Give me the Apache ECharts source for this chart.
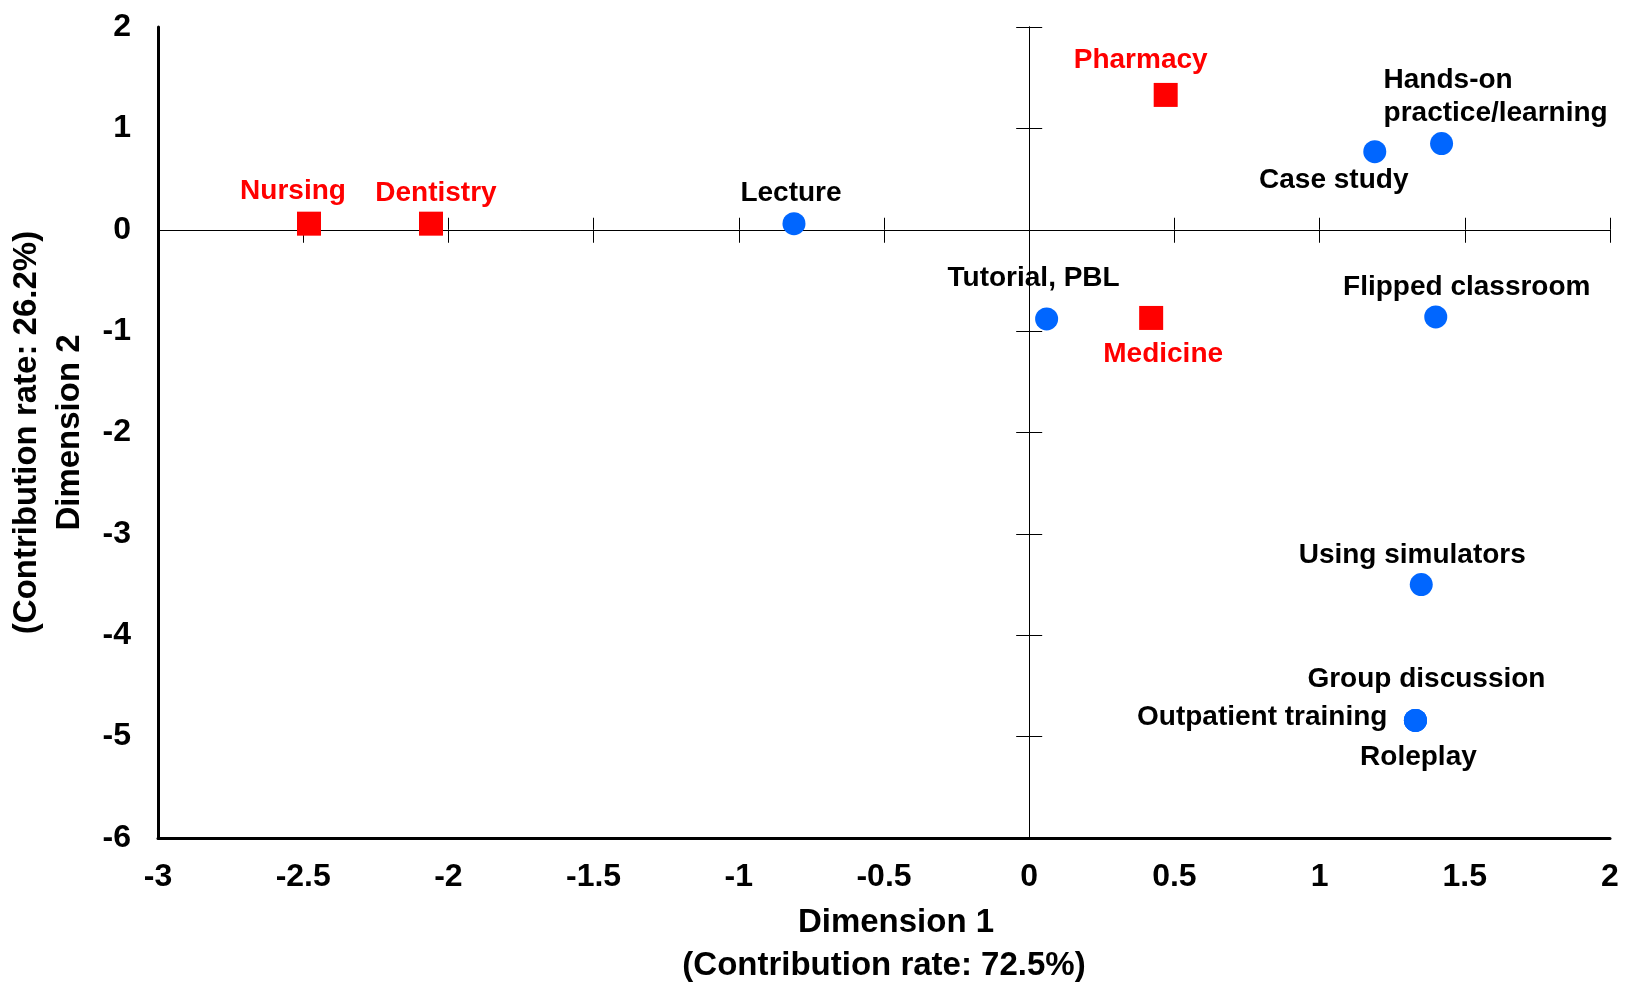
<!DOCTYPE html>
<html>
<head>
<meta charset="utf-8">
<script src="https://cdn.jsdelivr.net/npm/echarts@6/dist/echarts.min.js"></script>
<style>
  html, body { margin: 0; padding: 0; background: #fff; }
  #chart { width: 1625px; height: 983px; }
</style>
</head>
<body>
<div id="chart"></div>
<script>
// ---- data ----
const programNames = ['Nursing', 'Dentistry', 'Pharmacy', 'Medicine'];
const programDim1 = [-2.48, -2.06, 0.47, 0.42];
const programDim2 = [0.06, 0.06, 1.33, -0.87];

const methodNames = ['Lecture', 'Tutorial, PBL', 'Case study', 'Hands-on\npractice/learning',
  'Flipped classroom', 'Using simulators', 'Group discussion', 'Outpatient training', 'Roleplay'];
const methodDim1 = [-0.81, 0.06, 1.19, 1.42, 1.40, 1.35, 1.33, 1.33, 1.33];
const methodDim2 = [0.06, -0.88, 0.77, 0.85, -0.86, -3.50, -4.84, -4.84, -4.84];

const xRange = [-3, 2];
const xStep = 0.5;
const yRange = [-6, 2];
const yStep = 1;

const xTitle = ['Dimension 1', '(Contribution rate: 72.5%)'];
const yTitle = ['(Contribution rate: 26.2%)', 'Dimension 2'];

// ---- label placement (styling only) ----
const labelPlacement = {
  'Nursing': { offset: [-16, -32] },
  'Dentistry': { offset: [5, -30] },
  'Pharmacy': { offset: [-25, -35] },
  'Medicine': { offset: [12, 36] },
  'Lecture': { offset: [-3, -30] },
  'Tutorial, PBL': { offset: [-13, -41] },
  'Case study': { offset: [-41, 29] },
  'Hands-on\npractice/learning': { offset: [-58, -47], align: 'left', lineHeight: 33 },
  'Flipped classroom': { offset: [31, -30] },
  'Using simulators': { offset: [-9, -29] },
  'Group discussion': { offset: [11, -41] },
  'Outpatient training': { offset: [-28, -3], align: 'right' },
  'Roleplay': { offset: [3, 37] }
};

const FONT = '"Liberation Sans", Arial, sans-serif';

function buildPoints(names, xs, ys, color) {
  return names.map((n, i) => {
    const p = labelPlacement[n] || { offset: [0, -30] };
    return {
      name: n,
      value: [xs[i], ys[i]],
      label: {
        show: true,
        position: 'inside',
        formatter: n,
        offset: p.offset,
        align: p.align || 'center',
        verticalAlign: 'middle',
        lineHeight: p.lineHeight || 30,
        color: color,
        fontSize: 28,
        fontWeight: 'bold',
        fontFamily: FONT
      }
    };
  });
}

const gridRect = { left: 158, top: 27, width: 1452, height: 811, containLabel: false, outerBoundsMode: 'none' };

const zeroLine = { onZero: true, lineStyle: { color: '#000', width: 1 } };
const tickStyle = { lineStyle: { color: '#000', width: 1 } };

const option = {
  animation: false,
  backgroundColor: '#fff',
  grid: [
    Object.assign({}, gridRect),
    Object.assign({}, gridRect),
    Object.assign({}, gridRect)
  ],
  xAxis: [
    {
      gridIndex: 0, type: 'value', min: xRange[0], max: xRange[1], interval: xStep,
      position: 'bottom',
      axisLine: { onZero: false, lineStyle: { color: '#000', width: 3 } },
      axisTick: { show: false },
      splitLine: { show: false },
      axisLabel: { fontSize: 32, fontWeight: 'bold', color: '#000', fontFamily: FONT, margin: 23 },
      name: '{a|' + xTitle[0] + '}\n{b|' + xTitle[1] + '}',
      nameLocation: 'middle',
      nameGap: 63,
      nameTextStyle: {
        fontSize: 33, fontWeight: 'bold', color: '#000', fontFamily: FONT, lineHeight: 43,
        rich: {
          a: { fontSize: 33, fontWeight: 'bold', color: '#000', fontFamily: FONT, lineHeight: 43, padding: [0, 0, 0, 24] },
          b: { fontSize: 33, fontWeight: 'bold', color: '#000', fontFamily: FONT, lineHeight: 43 }
        }
      }
    },
    {
      gridIndex: 1, type: 'value', min: xRange[0], max: xRange[1], interval: xStep,
      position: 'bottom',
      axisLine: zeroLine,
      axisTick: Object.assign({ show: true, inside: false, length: 13 }, tickStyle),
      axisLabel: { show: false },
      splitLine: { show: false }
    },
    {
      gridIndex: 2, type: 'value', min: xRange[0], max: xRange[1], interval: xStep,
      position: 'top',
      axisLine: zeroLine,
      axisTick: Object.assign({ show: true, inside: false, length: 12 }, tickStyle),
      axisLabel: { show: false },
      splitLine: { show: false }
    }
  ],
  yAxis: [
    {
      gridIndex: 0, type: 'value', min: yRange[0], max: yRange[1], interval: yStep,
      position: 'left',
      axisLine: { onZero: false, lineStyle: { color: '#000', width: 3 } },
      axisTick: { show: false },
      splitLine: { show: false },
      axisLabel: { fontSize: 32, fontWeight: 'bold', color: '#000', fontFamily: FONT, margin: 27 },
      name: yTitle.join('\n'),
      nameLocation: 'middle',
      nameRotate: 90,
      nameGap: 61,
      nameTextStyle: { fontSize: 33, fontWeight: 'bold', color: '#000', fontFamily: FONT, lineHeight: 43 }
    },
    {
      gridIndex: 1, type: 'value', min: yRange[0], max: yRange[1], interval: yStep,
      position: 'left',
      axisLine: zeroLine,
      axisTick: Object.assign({ show: true, inside: false, length: 13 }, tickStyle),
      axisLabel: { show: false },
      splitLine: { show: false }
    },
    {
      gridIndex: 2, type: 'value', min: yRange[0], max: yRange[1], interval: yStep,
      position: 'right',
      axisLine: zeroLine,
      axisTick: Object.assign({ show: true, inside: false, length: 13 }, tickStyle),
      axisLabel: { show: false },
      splitLine: { show: false }
    }
  ],
  series: [
    {
      name: 'Programs',
      type: 'scatter',
      xAxisIndex: 0, yAxisIndex: 0,
      symbol: 'rect',
      symbolSize: 24,
      itemStyle: { color: '#FF0000', opacity: 1 },
      data: buildPoints(programNames, programDim1, programDim2, '#FF0000'),
      z: 5
    },
    {
      name: 'Teaching methods',
      type: 'scatter',
      xAxisIndex: 0, yAxisIndex: 0,
      symbol: 'circle',
      symbolSize: 23,
      itemStyle: { color: '#0066FF', opacity: 1 },
      data: buildPoints(methodNames, methodDim1, methodDim2, '#000'),
      z: 5
    }
  ]
};

const chart = echarts.init(document.getElementById('chart'), null, { renderer: 'canvas' });
chart.setOption(option);
</script>
</body>
</html>
